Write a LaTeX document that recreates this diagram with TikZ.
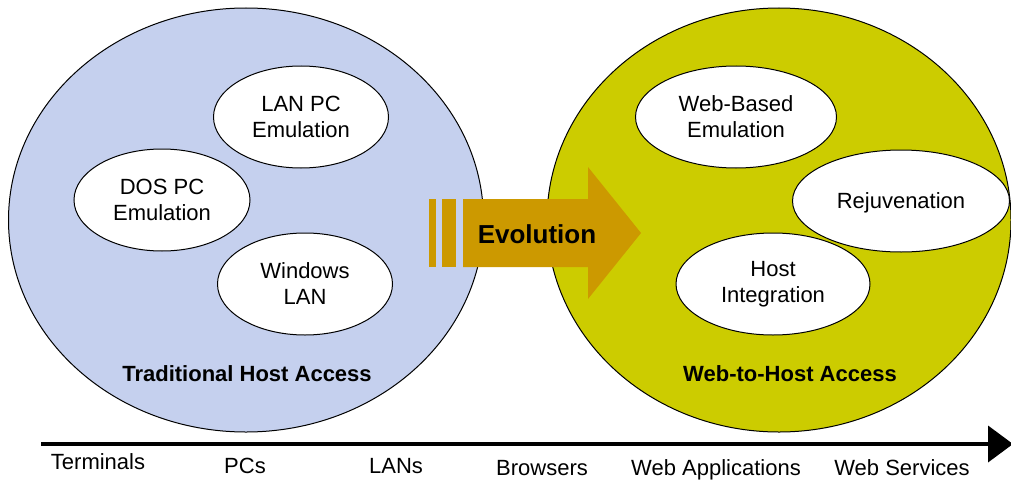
\documentclass[tikz,border=0pt]{standalone}
\usepackage{fontspec}
\setmainfont{Liberation Sans}
\usetikzlibrary{arrows.meta,shapes.geometric}
\definecolor{trad}{HTML}{C5D0EE}
\definecolor{webgelb}{HTML}{CCCC00}
\definecolor{evol}{HTML}{CC9900}
\tikzset{
  feld/.style={ellipse,draw=black,line width=1pt,inner sep=0pt,minimum height=424pt},
  blase/.style={ellipse,draw=black,fill=white,line width=1pt,inner sep=0pt,minimum height=102pt,align=center,font=\fontsize{22}{26}\selectfont},
  titel/.style={anchor=base,font=\fontsize{22}{26}\selectfont\bfseries},
  zeit/.style={-{Triangle[length=25pt,width=36pt]},line width=4pt},
  etappe/.style={anchor=base,font=\fontsize{22}{26}\selectfont},
}

\begin{document}
\begin{tikzpicture}[x=1pt,y=-1pt]
  \useasboundingbox (0,0) rectangle (1011,487);
  % the two areas
  \node[feld,fill=trad,minimum width=475pt] (trad) at (246,220) {};
  \node[feld,fill=webgelb,minimum width=464pt] (web) at (779,220) {};
  % evolution arrow
  \fill[evol] (429,199) rectangle (436,267);
  \fill[evol] (442,199) rectangle (456,267);
  \fill[evol] (463,199) -- (588,199) -- (588,167) -- (641,233) -- (588,299)
    -- (588,267) -- (463,267) -- cycle;
  \node[anchor=base,font=\fontsize{26}{30}\selectfont\bfseries] (evo) at (537,243) {Evolution};
  % traditional access
  \node[blase,minimum width=175pt] (lanpc) at (301,117) {LAN PC\\Emulation};
  \node[blase,minimum width=176pt] (dospc) at (162,200) {DOS PC\\Emulation};
  \node[blase,minimum width=175pt] (winlan) at (305,284) {Windows\\LAN};
  \node[titel] (tradlab) at (247,381) {Traditional Host Access};
  % web-to-host access
  \node[blase,minimum width=201pt] (webemu) at (736,117) {Web-Based\\Emulation};
  \node[blase,minimum width=217pt,text depth=0pt] (rejuv) at (901,201) {Rejuvenation};
  \node[blase,minimum width=194pt] (hostint) at (773,284) {Host\\Integration};
  \node[titel] (weblab) at (790,381) {Web-to-Host Access};
  % timeline
  \coordinate (t0) at (41,444);
  \coordinate (t1) at (1013,444);
  \draw[zeit] (t0) -- (t1);
  \node[etappe] (term) at (98,469) {Terminals};
  \node[etappe] (pcs) at (245,473) {PCs};
  \node[etappe] (lans) at (396,473) {LANs};
  \node[etappe] (brows) at (542,475) {Browsers};
  \node[etappe] (webapp) at (716,475) {Web Applications};
  \node[etappe] (websrv) at (902,475) {Web Services};
\end{tikzpicture}
\end{document}
